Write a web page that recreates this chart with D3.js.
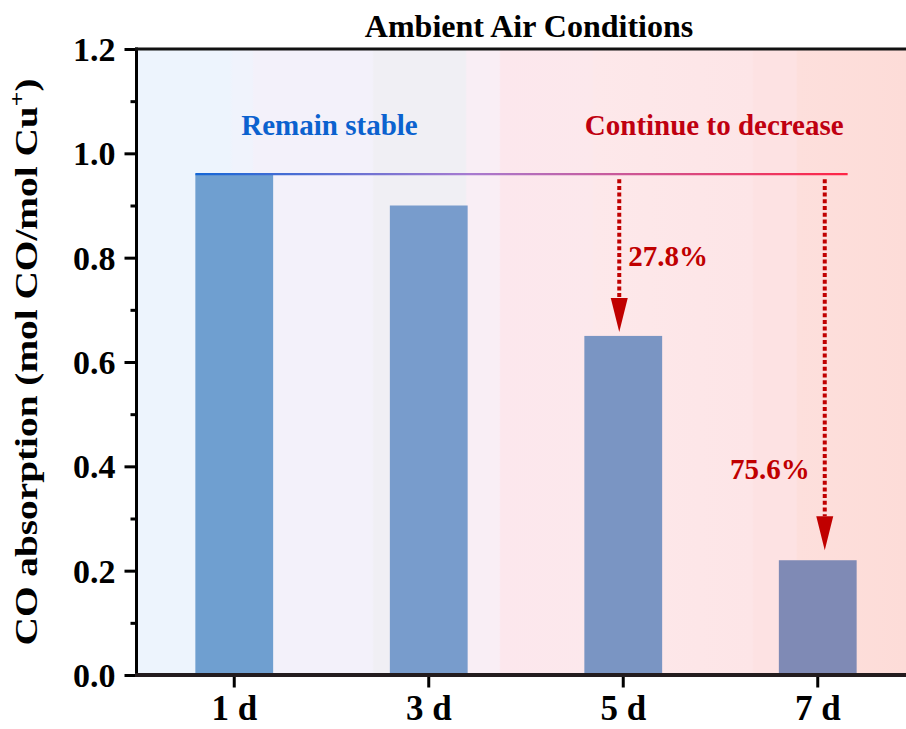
<!DOCTYPE html>
<html>
<head>
<meta charset="utf-8">
<script src="https://cdn.jsdelivr.net/npm/d3@7"></script>
<style>
  html, body { margin: 0; padding: 0; background: #ffffff; }
  svg { display: block; }
  text { font-family: "Liberation Serif", "Times New Roman", serif; font-weight: bold; }
</style>
</head>
<body>
<svg id="chart" width="906" height="729"></svg>
<script>
// ---- data ----
const categories = ["1 d", "3 d", "5 d", "7 d"];
const absorption = [0.96, 0.90, 0.65, 0.22];          // mol CO / mol Cu+
const yTicks = [0.0, 0.2, 0.4, 0.6, 0.8, 1.0, 1.2];
const yMinorTicks = [0.1, 0.3, 0.5, 0.7, 0.9, 1.1];
const dropTargets = ["5 d", "7 d"];                    // bars marked with a decrease arrow
const dropBase = "3 d";                                 // decrease measured against this day
const dropLabels = ["27.8%", "75.6%"];
const phaseLabels = ["Remain stable", "Continue to decrease"];
const titleText = "Ambient Air Conditions";

// ---- layout ----
const W = 906, H = 729;
const plot = { left: 137, right: 915, top: 49, bottom: 675 };

const svg = d3.select("#chart");
const defs = svg.append("defs");

const x = d3.scaleBand()
  .domain(categories)
  .range([plot.left, plot.right])
  .paddingInner(0.6)
  .paddingOuter(0.3);

const y = d3.scaleLinear()
  .domain([0, 1.2])
  .range([plot.bottom, plot.top]);

const valueOf = c => absorption[categories.indexOf(c)];

// background: soft stepped wash from blue (stable) to red (decreasing)
const washStops = [
  [0.000, "#edf4fd"], [0.121, "#edf4fd"],
  [0.125, "#f0f3fc"], [0.150, "#f0f3fc"],
  [0.152, "#f3f1fa"], [0.306, "#f3f1fa"],
  [0.308, "#f0eff4"], [0.427, "#f0eff4"],
  [0.429, "#f9eef5"], [0.471, "#f9eef5"],
  [0.473, "#fce7ed"], [0.592, "#fce8ec"],
  [0.594, "#fde8ea"], [0.800, "#fde5e7"],
  [0.802, "#fde2e3"], [0.857, "#fde2e3"],
  [0.859, "#fddfdc"], [1.000, "#fddcd8"]
];
const wash = defs.append("linearGradient")
  .attr("id", "wash")
  .attr("gradientUnits", "userSpaceOnUse")
  .attr("x1", plot.left).attr("x2", W)
  .attr("y1", 0).attr("y2", 0);
wash.selectAll("stop").data(washStops).join("stop")
  .attr("offset", d => d[0])
  .attr("stop-color", d => d[1]);

svg.append("rect")
  .attr("x", plot.left).attr("y", plot.top)
  .attr("width", W - plot.left).attr("height", plot.bottom - plot.top)
  .attr("fill", "url(#wash)");

// bars
const barColors = ["#6f9fd0", "#789ccc", "#7a95c3", "#7f8ab5"];
svg.append("g").selectAll("rect")
  .data(categories)
  .join("rect")
  .attr("x", d => x(d))
  .attr("width", x.bandwidth())
  .attr("y", d => y(valueOf(d)))
  .attr("height", d => y(0) - y(valueOf(d)))
  .attr("fill", (d, i) => barColors[i]);

// reference level line at the day-1 value
const refValue = absorption[0];
const refX1 = x(categories[0]);
const refX2 = x(categories[categories.length - 1]) + x.bandwidth() - 9;
const refGrad = defs.append("linearGradient")
  .attr("id", "refGrad")
  .attr("gradientUnits", "userSpaceOnUse")
  .attr("x1", refX1).attr("x2", refX2)
  .attr("y1", 0).attr("y2", 0);
refGrad.append("stop").attr("offset", 0).attr("stop-color", "#1466d6");
refGrad.append("stop").attr("offset", 0.42).attr("stop-color", "#a77ad0");
refGrad.append("stop").attr("offset", 1).attr("stop-color", "#ff2545");

svg.append("line")
  .attr("x1", refX1).attr("x2", refX2)
  .attr("y1", y(refValue)).attr("y2", y(refValue))
  .attr("stroke", "url(#refGrad)")
  .attr("stroke-width", 2.2);

// phase labels above the reference line
const phaseY = y(refValue) - 39;
svg.append("text")
  .attr("x", (x(categories[0]) + x(categories[1])) / 2 + x.bandwidth() / 2 - 2)
  .attr("y", phaseY)
  .attr("text-anchor", "middle")
  .attr("fill", "#0b62cf")
  .style("font-size", "29px")
  .text(phaseLabels[0]);
svg.append("text")
  .attr("x", refX2 - 4)
  .attr("y", phaseY)
  .attr("text-anchor", "end")
  .attr("fill", "#c00010")
  .style("font-size", "29px")
  .text(phaseLabels[1]);

// decrease arrows from the reference level down to the bar tops
const red = "#c00000";
const arrowLayout = [
  { nudge: -4, gap: 4, labelSide: "right", labelRise: 32 },
  { nudge: 7, gap: 10, labelSide: "left", labelRise: 37 }
];
const headH = 34, headW = 17;
dropTargets.forEach((c, i) => {
  const L = arrowLayout[i];
  const ax = x(c) + x.bandwidth() / 2 + L.nudge;
  const tip = y(valueOf(c)) - L.gap;
  const headTop = tip - headH;
  svg.append("line")
    .attr("x1", ax).attr("x2", ax)
    .attr("y1", y(refValue) + 5).attr("y2", headTop)
    .attr("stroke", red)
    .attr("stroke-width", 4)
    .attr("stroke-dasharray", "4 2.7");
  svg.append("path")
    .attr("d", `M${ax - headW / 2},${headTop} L${ax + headW / 2},${headTop} L${ax},${tip} Z`)
    .attr("fill", red);
  // the stated percentage matches the drop relative to dropBase
  const pct = (1 - valueOf(c) / valueOf(dropBase)) * 100;
  svg.append("text")
    .attr("x", L.labelSide === "right" ? ax + 9 : ax - 15)
    .attr("y", headTop - L.labelRise)
    .attr("text-anchor", L.labelSide === "right" ? "start" : "end")
    .attr("fill", red)
    .attr("data-drop", pct.toFixed(1))
    .style("font-size", "29px")
    .text(dropLabels[i]);
});

// y axis
const yAxis = svg.append("g")
  .attr("transform", `translate(${plot.left - 0.5},0)`)
  .call(d3.axisLeft(y).tickValues(yTicks).tickSize(12).tickPadding(9).tickFormat(d3.format(".1f")));
yAxis.select(".domain").remove();
yAxis.selectAll(".tick line").attr("stroke", "#000").attr("stroke-width", 3);
yAxis.selectAll(".tick text")
  .attr("fill", "#000")
  .style("font-size", "34px")
  .style("font-family", "'Liberation Serif', 'Times New Roman', serif")
  .style("font-weight", "bold")
  .attr("dy", "0.34em");

const yMinor = svg.append("g")
  .attr("transform", `translate(${plot.left - 0.5},0)`)
  .call(d3.axisLeft(y).tickValues(yMinorTicks).tickSize(6).tickFormat(""));
yMinor.select(".domain").remove();
yMinor.selectAll(".tick line").attr("stroke", "#000").attr("stroke-width", 3);

// x axis
const xAxis = svg.append("g")
  .attr("transform", `translate(0,${plot.bottom + 1.5})`)
  .call(d3.axisBottom(x).tickSize(11).tickPadding(8));
xAxis.select(".domain").remove();
xAxis.selectAll(".tick line").attr("stroke", "#000").attr("stroke-width", 3);
xAxis.selectAll(".tick text")
  .attr("fill", "#000")
  .style("font-size", "35px")
  .style("font-family", "'Liberation Serif', 'Times New Roman', serif")
  .style("font-weight", "bold");

// frame: left axis, bottom axis, top border
svg.append("line")
  .attr("x1", plot.left - 0.5).attr("x2", plot.left - 0.5)
  .attr("y1", plot.top - 1.5).attr("y2", plot.bottom + 2)
  .attr("stroke", "#000").attr("stroke-width", 3);
svg.append("line")
  .attr("x1", plot.left - 2).attr("x2", W)
  .attr("y1", plot.bottom).attr("y2", plot.bottom)
  .attr("stroke", "#231c1e").attr("stroke-width", 4);
svg.append("line")
  .attr("x1", plot.left - 2).attr("x2", W)
  .attr("y1", plot.top).attr("y2", plot.top)
  .attr("stroke", "#111").attr("stroke-width", 3);

// title
svg.append("text")
  .attr("x", 529)
  .attr("y", 37)
  .attr("text-anchor", "middle")
  .attr("fill", "#000")
  .style("font-size", "32px")
  .text(titleText);

// y axis title (tall, narrow lettering)
const yTitleG = svg.append("g")
  .attr("transform", `translate(37,${(plot.top + plot.bottom) / 2 - 0}) rotate(-90)`);
const yTitle = yTitleG.append("text")
  .attr("text-anchor", "middle")
  .attr("fill", "#000")
  .style("font-size", "32px");
yTitle.append("tspan").text("CO absorption (mol CO/mol Cu");
yTitle.append("tspan").attr("dy", -13).style("font-size", "21px").text("+");
yTitle.append("tspan").attr("dy", 13).text(")");
const titleLen = yTitle.node().getComputedTextLength();
yTitle.attr("transform", `scale(${567 / titleLen},1)`);
</script>
</body>
</html>
